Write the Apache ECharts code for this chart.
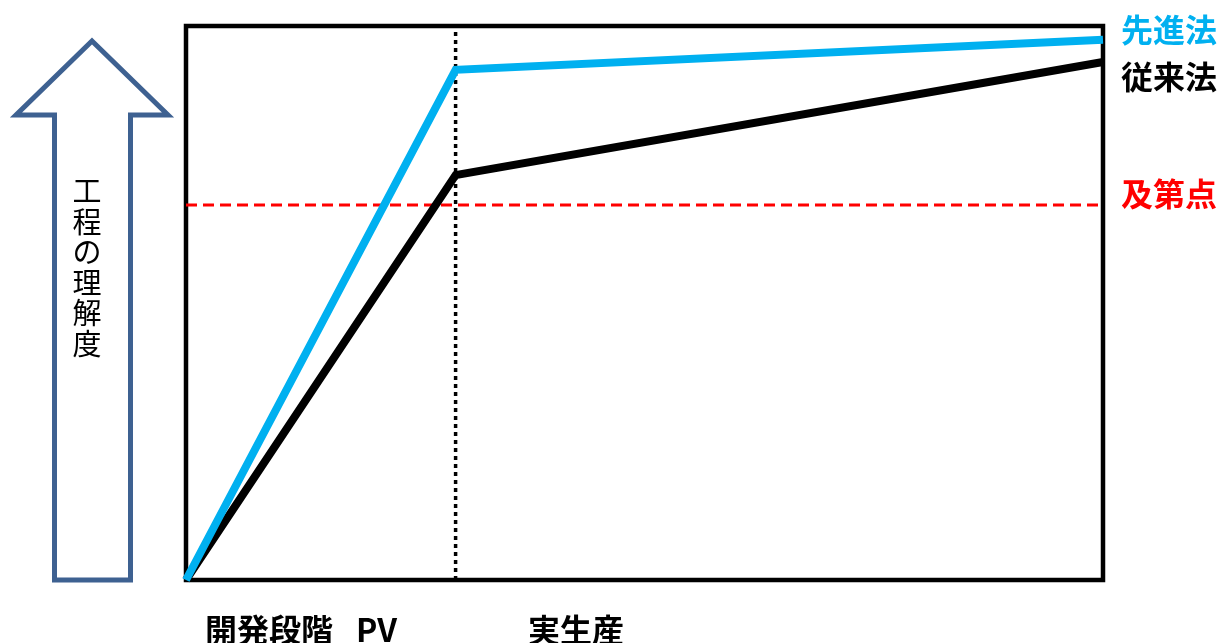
<!DOCTYPE html>
<html>
<head>
<meta charset="utf-8">
<script src="https://cdn.jsdelivr.net/npm/echarts@6/dist/echarts.min.js"></script>
<style>
  html, body { margin: 0; padding: 0; background: #fff; }
  #chart { width: 1220px; height: 643px; }
</style>
</head>
<body>
<div id="chart"></div>
<script>
// Stage positions along the horizontal axis (0 = start, 100 = end)
const stageX = [0, 29.4, 100];
// Understanding of the process (0–100)
const advancedValues = [0, 92.1, 97.5];   // 先進法
const conventionalValues = [0, 73.1, 93.5]; // 従来法
const passLevel = 67.7;                    // 及第点
const phaseBoundary = 29.4;                // 開発段階 / 実生産 の境界

const seriesNames = ['先進法', '従来法', '及第点'];
const yAxisTitle = '工程の理解度';
const phaseLabels = ['開発段階', 'PV', '実生産'];

const FONT = '"Noto Sans CJK JP", "Noto Sans", sans-serif';
const BLUE = '#00B0F0';
const RED = '#FF0000';
const ARROW = '#3E6191';

const pairs = (xs, ys) => xs.map((x, i) => [x, ys[i]]);

const chart = echarts.init(document.getElementById('chart'), null, { renderer: 'canvas' });

const label = (text, x, y, color) => ({
  type: 'text', x, y,
  style: { text, font: 'bold 32px ' + FONT, fill: color, align: 'left', verticalAlign: 'middle' }
});

chart.setOption({
  animation: false,
  backgroundColor: '#fff',
  grid: {
    left: 186, right: 117, top: 26, bottom: 63,
    show: true, borderColor: '#000', borderWidth: 4.5, backgroundColor: 'transparent'
  },
  xAxis: {
    type: 'value', min: 0, max: 100,
    axisLine: { show: false }, axisTick: { show: false },
    axisLabel: { show: false }, splitLine: { show: false }
  },
  yAxis: {
    type: 'value', min: 0, max: 100,
    axisLine: { show: false }, axisTick: { show: false },
    axisLabel: { show: false }, splitLine: { show: false }
  },
  series: [
    {
      name: seriesNames[2],
      type: 'line',
      data: pairs([0, 100], [passLevel, passLevel]),
      symbol: 'none',
      lineStyle: { color: RED, width: 3, type: [11, 6] },
      z: 1
    },
    {
      name: 'boundary',
      type: 'line',
      data: pairs([phaseBoundary, phaseBoundary], [0, 100]),
      symbol: 'none',
      lineStyle: { color: '#000', width: 3.5, type: [4, 4] },
      z: 1
    },
    {
      name: seriesNames[1],
      type: 'line',
      data: pairs(stageX, conventionalValues),
      symbol: 'none',
      lineStyle: { color: '#000', width: 8, join: 'miter' },
      z: 2
    },
    {
      name: seriesNames[0],
      type: 'line',
      data: pairs(stageX, advancedValues),
      symbol: 'none',
      lineStyle: { color: BLUE, width: 8, join: 'miter' },
      z: 3
    }
  ],
  graphic: [
    {
      type: 'polygon',
      shape: {
        points: [[92, 41], [168, 115], [130.5, 115], [130.5, 580], [54.5, 580], [54.5, 115], [16, 115]]
      },
      style: { fill: '#fff', stroke: ARROW, lineWidth: 5, lineJoin: 'miter' }
    },
    {
      type: 'text', x: 87, y: 176,
      style: {
        text: yAxisTitle.split('').join('\n'),
        font: '29px ' + FONT, fill: '#000',
        align: 'center', verticalAlign: 'top', lineHeight: 30.5
      }
    },
    label(seriesNames[0], 1121, 30, BLUE),
    label(seriesNames[1], 1121, 77, '#000'),
    label(seriesNames[2], 1121, 194, RED),
    label(phaseLabels[0], 205, 630, '#000'),
    label(phaseLabels[1], 356, 630, '#000'),
    label(phaseLabels[2], 528, 630, '#000')
  ]
});
</script>
</body>
</html>
